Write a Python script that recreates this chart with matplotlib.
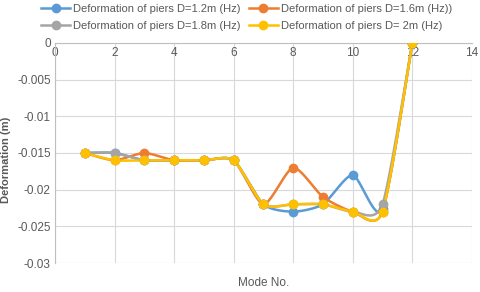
import matplotlib

matplotlib.use("Agg")
import matplotlib.pyplot as plt
import numpy as np

modes = [1, 2, 3, 4, 5, 6, 7, 8, 9, 10, 11, 12]
d12 = [-0.015, -0.015, -0.016, -0.016, -0.016, -0.016, -0.022, -0.023, -0.022, -0.018, -0.0227, 0.0]
d16 = [-0.015, -0.016, -0.015, -0.016, -0.016, -0.016, -0.022, -0.017, -0.021, -0.023, -0.023, 0.0]
d18 = [-0.015, -0.015, -0.016, -0.016, -0.016, -0.016, -0.022, -0.022, -0.022, -0.023, -0.022, 0.0]
d20 = [-0.015, -0.016, -0.016, -0.016, -0.016, -0.016, -0.022, -0.022, -0.022, -0.023, -0.023, 0.0]
labels = [
    "Deformation of piers D=1.2m (Hz)",
    "Deformation of piers D=1.6m (Hz))",
    "Deformation of piers D=1.8m (Hz)",
    "Deformation of piers D= 2m (Hz)",
]
colors = ["#5B9BD5", "#ED7D31", "#A5A5A5", "#FFC000"]


def smooth(x, y, k=0.7, n=24):
    # cardinal spline, close to Excel's smoothed line
    x = np.asarray(x, float)
    y = np.asarray(y, float)
    px = np.concatenate([[x[0]], x, [x[-1]]])
    py = np.concatenate([[y[0]], y, [y[-1]]])
    t = np.linspace(0, 1, n, endpoint=False)
    h00 = 2 * t ** 3 - 3 * t ** 2 + 1
    h10 = t ** 3 - 2 * t ** 2 + t
    h01 = -2 * t ** 3 + 3 * t ** 2
    h11 = t ** 3 - t ** 2
    xs, ys = [], []
    for i in range(1, len(px) - 2):
        for arr, out in ((px, xs), (py, ys)):
            m1 = k * (arr[i + 1] - arr[i - 1]) / 2
            m2 = k * (arr[i + 2] - arr[i]) / 2
            out.extend(h00 * arr[i] + h10 * m1 + h01 * arr[i + 1] + h11 * m2)
    xs.append(x[-1])
    ys.append(y[-1])
    return xs, ys


plt.rcParams["font.family"] = ["Liberation Sans", "DejaVu Sans"]
plt.rcParams["axes.unicode_minus"] = False

fig = plt.figure(figsize=(4.8, 2.92), dpi=100)
ax = fig.add_axes([0.1146, 0.0993, 0.8684, 0.7537])

handles = []
for ys, c in zip([d12, d16, d18, d20], colors):
    sx, sy = smooth(modes, ys)
    ax.plot(sx, sy, color=c, lw=1.8, zorder=3)
    ax.plot(modes, ys, "o", color=c, ms=6, zorder=4)
    h, = ax.plot([], [], "-o", color=c, lw=1.8, ms=6)
    handles.append(h)

ax.set_xlim(0, 14)
ax.set_ylim(-0.03, 0)
ax.set_xticks(range(0, 15, 2))
ax.set_yticks([0, -0.005, -0.01, -0.015, -0.02, -0.025, -0.03])
ax.set_yticklabels(["0", "-0.005", "-0.01", "-0.015", "-0.02", "-0.025", "-0.03"])
ax.grid(True, color="#d9d9d9", lw=0.8)
ax.set_axisbelow(True)

for s in ["top", "right"]:
    ax.spines[s].set_visible(False)
ax.spines["bottom"].set_position(("data", 0))
ax.spines["bottom"].set_color("#bfbfbf")
ax.spines["left"].set_color("#bfbfbf")
ax.tick_params(length=0, labelsize=8.5, colors="#595959", pad=3)

ax.set_ylabel("Deformation (m)", fontsize=8, color="#595959", fontweight="bold")
ax.yaxis.set_label_coords(-0.105, 0.47)
ax.set_xlabel("Mode No.", fontsize=8.5, color="#595959")
ax.xaxis.set_label_coords(0.5, -0.065)

# row-major legend order like the reference
order = [0, 2, 1, 3]
fig.legend([handles[i] for i in order], [labels[i] for i in order],
           loc="upper left", bbox_to_anchor=(0.065, 1.022), ncol=2, frameon=False,
           fontsize=8, labelcolor="#595959", handlelength=2.6, columnspacing=0.7,
           handletextpad=0.3, labelspacing=0.65)

fig.savefig("out.png", dpi=100)
